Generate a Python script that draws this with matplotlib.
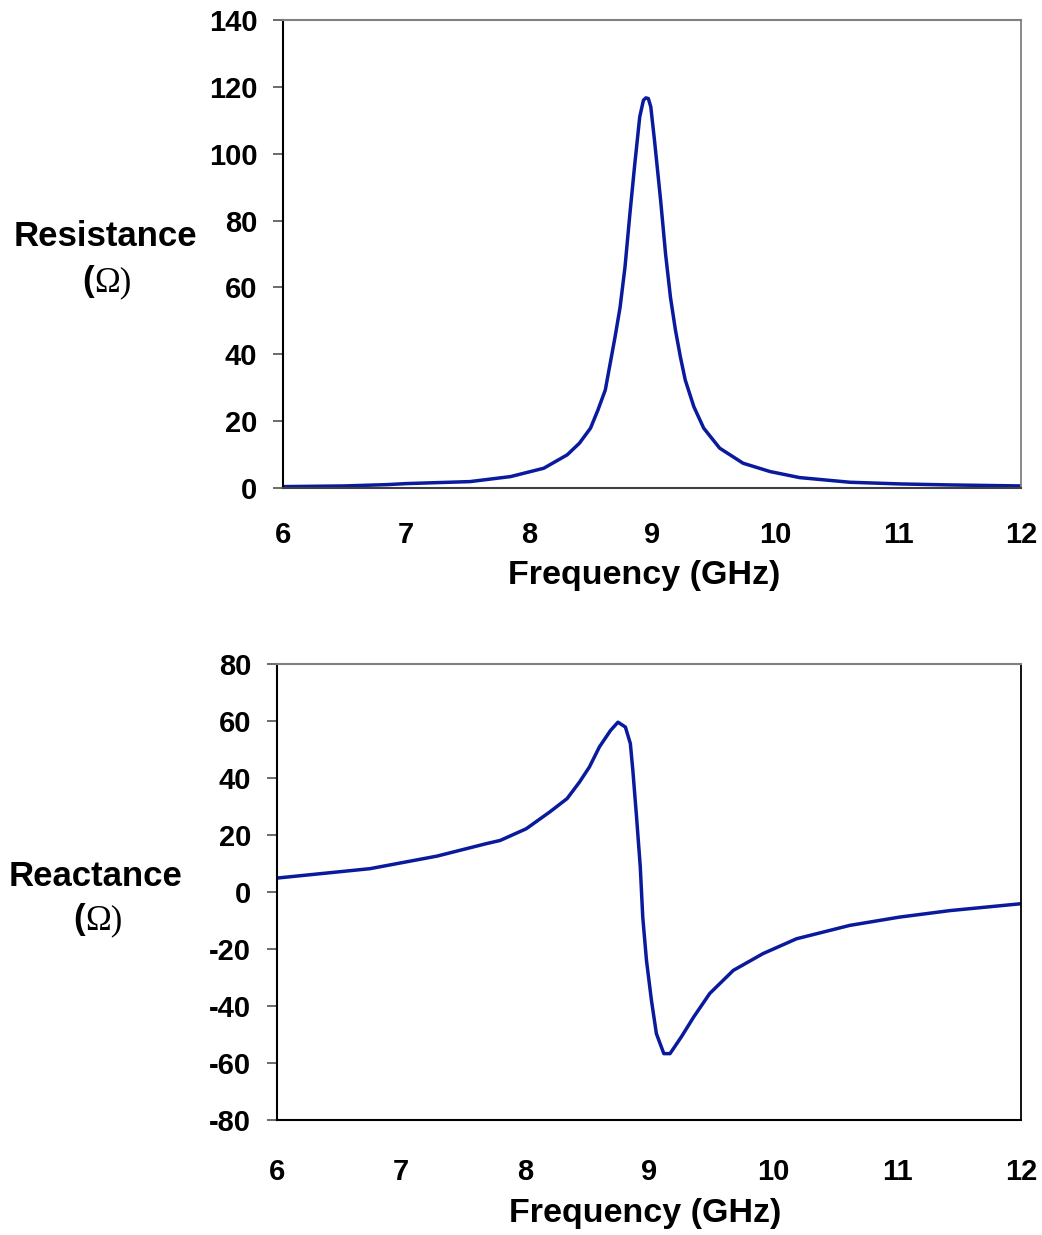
import matplotlib.pyplot as plt

# values
res_freq = [6.0, 6.5, 6.85, 7.0, 7.52, 7.85, 8.12, 8.31, 8.41, 8.50, 8.56,
            8.62, 8.66, 8.70, 8.74, 8.78, 8.82, 8.86, 8.90, 8.93, 8.95,
            8.97, 8.99, 9.02, 9.07, 9.11, 9.15, 9.19, 9.23, 9.27, 9.34,
            9.42, 9.55, 9.74, 9.96, 10.12, 10.2, 10.61, 11.02, 11.42, 12.0]
resistance = [0.4, 0.6, 1.0, 1.3, 1.9, 3.4, 5.9, 9.9, 13.4, 17.9, 23.3,
              29.3, 37.3, 45.3, 54, 66, 82, 97, 111, 116, 116.7,
              116.5, 114, 104, 86, 70, 57, 47.3, 39.3, 32.3, 24.3,
              17.9, 11.9, 7.4, 4.9, 3.7, 3.1, 1.7, 1.2, 0.9, 0.6]

rea_freq = [6.0, 6.75, 7.29, 7.69, 7.80, 8.01, 8.20, 8.34, 8.44, 8.52, 8.60,
            8.69, 8.75, 8.81, 8.85, 8.87, 8.90, 8.93, 8.95, 8.98, 9.02,
            9.06, 9.12, 9.17, 9.26, 9.36, 9.49, 9.68, 9.92, 10.19, 10.62,
            11.02, 11.43, 12.0]
reactance = [4.9, 8.2, 12.6, 17, 18.1, 22.2, 28.1, 32.8, 38.6, 43.9, 50.9,
             56.7, 59.6, 57.9, 52.1, 42.7, 26.3, 8.8, -8.8, -24, -38,
             -49.7, -56.7, -56.7, -50.9, -43.9, -35.6, -27.5, -21.6, -16.4, -11.7,
             -8.8, -6.5, -4.1]

x_ticks = [6, 7, 8, 9, 10, 11, 12]
res_ticks = [0, 20, 40, 60, 80, 100, 120, 140]
rea_ticks = [-80, -60, -40, -20, 0, 20, 40, 60, 80]

plt.rcParams['font.family'] = ['Liberation Sans', 'DejaVu Sans']
plt.rcParams['axes.unicode_minus'] = False
line_color = '#0a1a9c'

fig = plt.figure(figsize=(10.42, 12.35), dpi=100)
ax1 = fig.add_axes([0.2716, 0.6049, 0.7083, 0.3789])
ax2 = fig.add_axes([0.2658, 0.0931, 0.7140, 0.3692])


def style_axis(ax, yticks, xpad, bottom_col, right_col):
    ax.set_xlim(6, 12)
    ax.set_xticks(x_ticks)
    ax.set_ylim(yticks[0], yticks[-1])
    ax.set_yticks(yticks)
    ax.tick_params(axis='x', length=0, pad=xpad, labelsize=21)
    ax.tick_params(axis='y', length=7.5, width=1.3, color='#606060',
                   pad=11, labelsize=21, direction='out')
    for lab in ax.get_xticklabels() + ax.get_yticklabels():
        lab.set_fontweight('bold')
    ax.spines['left'].set_color('black')
    ax.spines['left'].set_linewidth(1.5)
    ax.spines['bottom'].set_color(bottom_col)
    ax.spines['bottom'].set_linewidth(1.5)
    ax.spines['top'].set_color('#808080')
    ax.spines['top'].set_linewidth(1.5)
    ax.spines['right'].set_color(right_col)
    ax.spines['right'].set_linewidth(1.3)
    ax.set_xlabel('Frequency (GHz)', fontsize=24.5, fontweight='bold')


ax1.plot(res_freq, resistance, color=line_color, linewidth=2.5,
         solid_joinstyle='round')
style_axis(ax1, res_ticks, 24, '#404040', '#808080')
ax1.xaxis.set_label_coords(0.49, -0.155)

ax2.plot(rea_freq, reactance, color=line_color, linewidth=2.5,
         solid_joinstyle='round')
style_axis(ax2, rea_ticks, 27, 'black', 'black')
ax2.xaxis.set_label_coords(0.495, -0.172)

# y labels, the omega set in a serif face as in the original
fig.text(105 / 1042, 1 - 237 / 1235, 'Resistance', fontsize=25,
         fontweight='bold', ha='center', va='center')
fig.text(94 / 1042, 1 - 282 / 1235, '(', fontsize=25, fontweight='bold',
         ha='right', va='center')
fig.text(94 / 1042, 1 - 283 / 1235, '\u03a9)', fontsize=25,
         family='Liberation Serif', ha='left', va='center')

fig.text(96 / 1042, 1 - 876 / 1235, 'Reactance', fontsize=25,
         fontweight='bold', ha='center', va='center')
fig.text(85 / 1042, 1 - 920 / 1235, '(', fontsize=25, fontweight='bold',
         ha='right', va='center')
fig.text(85 / 1042, 1 - 921 / 1235, '\u03a9)', fontsize=25,
         family='Liberation Serif', ha='left', va='center')

fig.savefig('out.png', dpi=100)
